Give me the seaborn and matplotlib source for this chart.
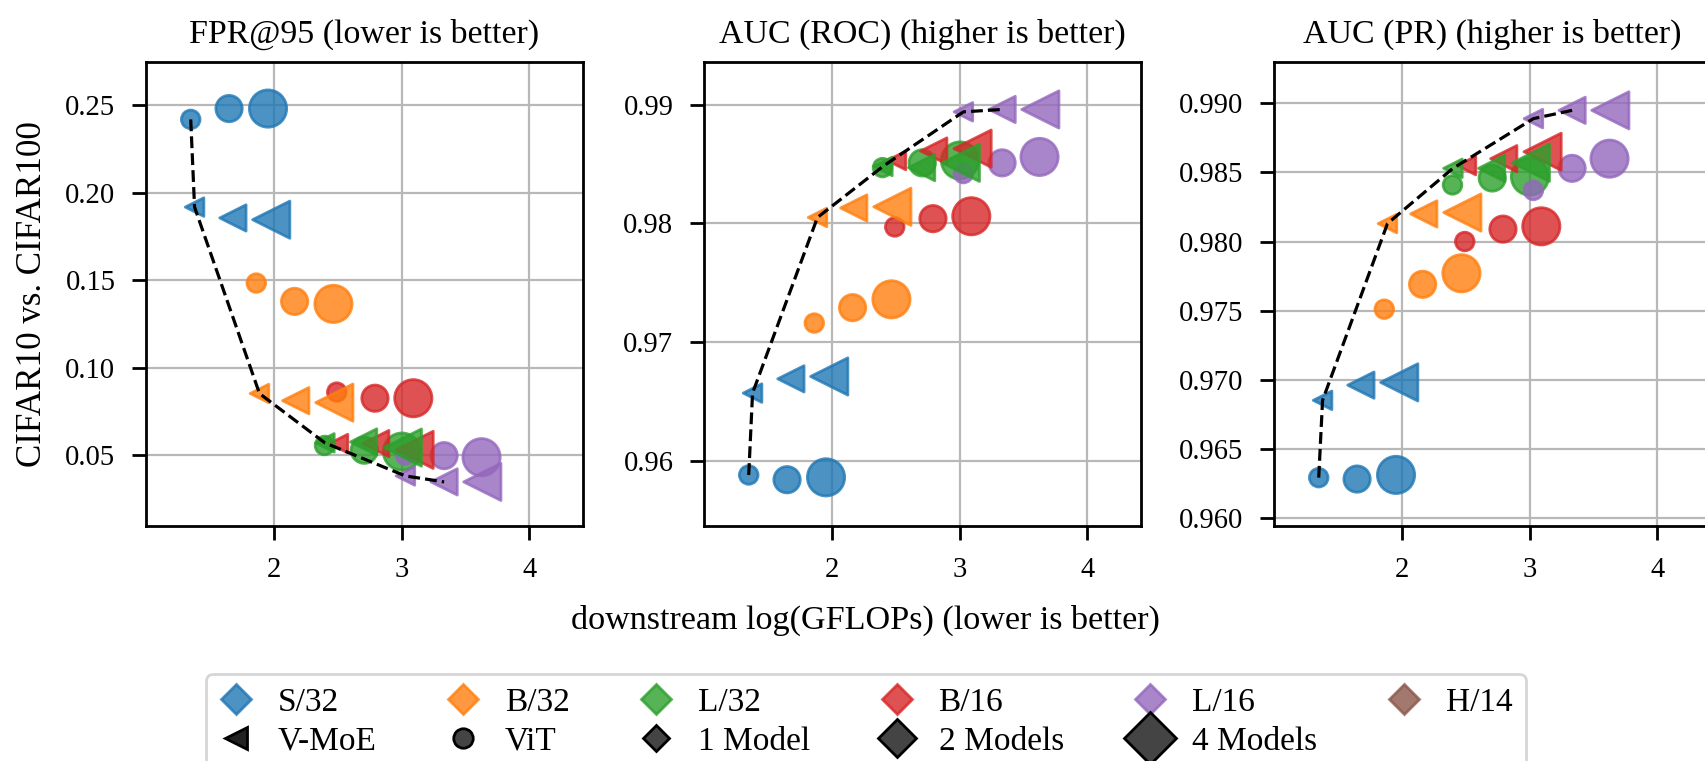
import numpy as np
import pandas as pd
import matplotlib
matplotlib.use("Agg")
import matplotlib.pyplot as plt
from matplotlib.lines import Line2D
from matplotlib.ticker import FormatStrFormatter
import seaborn as sns

# ---------------------------------------------------------------- data
models = ["S/32", "B/32", "L/32", "B/16", "L/16", "H/14"]
draw_order = ["S/32", "B/32", "B/16", "L/32", "L/16"]
families = ["ViT", "V-MoE"]
ensemble_sizes = [1, 2, 4]

# downstream log(GFLOPs) for ensembles of 1, 2 and 4 models
vit_gflops = {"S/32": [1.350, 1.650, 1.955], "B/32": [1.863, 2.163, 2.467],
              "B/16": [2.493, 2.792, 3.092], "L/32": [2.397, 2.708, 3.003],
              "L/16": [3.030, 3.333, 3.626]}
moe_gflops = {"S/32": [1.380, 1.680, 1.980], "B/32": [1.888, 2.172, 2.474],
              "B/16": [2.506, 2.798, 3.102], "L/32": [2.400, 2.703, 3.010],
              "L/16": [3.030, 3.333, 3.632]}

# FPR@95
vit_fpr = {"S/32": [0.2418, 0.2480, 0.2480], "B/32": [0.1483, 0.1378, 0.1364],
           "B/16": [0.0860, 0.0825, 0.0825], "L/32": [0.0555, 0.0528, 0.0520],
           "L/16": [0.0500, 0.0497, 0.0488]}
moe_fpr = {"S/32": [0.1917, 0.1855, 0.1845], "B/32": [0.0852, 0.0811, 0.0800],
           "B/16": [0.0566, 0.0566, 0.0530], "L/32": [0.0570, 0.0575, 0.0543],
           "L/16": [0.0381, 0.0347, 0.0347]}

# AUC (ROC)
vit_roc = {"S/32": [0.9588, 0.9584, 0.9586], "B/32": [0.9716, 0.9729, 0.9736],
           "B/16": [0.9797, 0.9804, 0.9806], "L/32": [0.9847, 0.9851, 0.9853],
           "L/16": [0.9842, 0.9851, 0.9856]}
moe_roc = {"S/32": [0.9657, 0.9669, 0.9671], "B/32": [0.9805, 0.9813, 0.9814],
           "B/16": [0.9853, 0.9861, 0.9863], "L/32": [0.9848, 0.9847, 0.9851],
           "L/16": [0.9894, 0.9896, 0.9896]}

# AUC (PR)
vit_pr = {"S/32": [0.9629, 0.9628, 0.9631], "B/32": [0.9751, 0.9769, 0.9777],
          "B/16": [0.9800, 0.9809, 0.9811], "L/32": [0.9841, 0.9846, 0.9847],
          "L/16": [0.9837, 0.9853, 0.9860]}
moe_pr = {"S/32": [0.9685, 0.9696, 0.9698], "B/32": [0.9813, 0.9820, 0.9821],
          "B/16": [0.9855, 0.9860, 0.9865], "L/32": [0.9853, 0.9853, 0.9857],
          "L/16": [0.9889, 0.9895, 0.9895]}

# points joined by the dashed frontier: (family, model, ensemble size)
frontier = [("ViT", "S/32", 1), ("V-MoE", "S/32", 1), ("V-MoE", "B/32", 1),
            ("V-MoE", "L/32", 1), ("V-MoE", "L/16", 1), ("V-MoE", "L/16", 2)]

metrics = ["fpr", "roc", "pr"]
titles = ["FPR@95 (lower is better)", "AUC (ROC) (higher is better)",
          "AUC (PR) (higher is better)"]
y_ticks = [[0.05, 0.10, 0.15, 0.20, 0.25],
           [0.96, 0.97, 0.98, 0.99],
           [0.960, 0.965, 0.970, 0.975, 0.980, 0.985, 0.990]]
y_formats = ["%.2f", "%.2f", "%.3f"]
y_limits = [(0.0095, 0.2746), (0.9545, 0.9936), (0.9594, 0.9930)]
x_ticks = [2, 3, 4]
x_limits = (1.0, 4.42)

# ---------------------------------------------------------------- table
rows = []
for fam, g, f, r, p in [("ViT", vit_gflops, vit_fpr, vit_roc, vit_pr),
                        ("V-MoE", moe_gflops, moe_fpr, moe_roc, moe_pr)]:
    for m in draw_order:
        for i, n in enumerate(ensemble_sizes):
            rows.append({"family": fam, "model": m, "n": n, "gflops": g[m][i],
                         "fpr": f[m][i], "roc": r[m][i], "pr": p[m][i]})
df = pd.DataFrame(rows)

# ---------------------------------------------------------------- style
sns.set_theme(style="whitegrid")
plt.rcParams.update({
    "font.family": ["Liberation Serif", "DejaVu Serif"],
    "axes.edgecolor": "black",
    "axes.linewidth": 1.0,
    "grid.color": "#b8b8b8",
    "grid.linewidth": 0.8,
    "xtick.bottom": True, "ytick.left": True,
    "xtick.major.size": 5, "ytick.major.size": 5,
    "xtick.major.width": 1.0, "ytick.major.width": 1.0,
    "xtick.major.pad": 6, "ytick.major.pad": 6,
    "xtick.color": "black", "ytick.color": "black",
    "xtick.labelsize": 10.3, "ytick.labelsize": 10.3,
    "text.color": "black", "axes.labelcolor": "black",
})

tab = sns.color_palette("tab10")
palette = {m: tab[i] for i, m in enumerate(models)}
size_map = {1: 45, 2: 90, 4: 180}

W, H = 1706, 761
fig = plt.figure(figsize=(W / 200, H / 200), dpi=200)
lefts = [146, 704, 1274]
ax_w, ax_top, ax_bot = 437, 62, 526

axes = []
for k, metric in enumerate(metrics):
    ax = fig.add_axes([lefts[k] / W, 1 - ax_bot / H, ax_w / W, (ax_bot - ax_top) / H])
    ax.set_axisbelow(True)
    sns.scatterplot(data=df, x="gflops", y=metric, hue="model",
                    hue_order=draw_order, palette=palette,
                    style="family", markers={"ViT": "o", "V-MoE": "<"},
                    size="n", sizes=size_map, alpha=0.8,
                    edgecolor="face", linewidth=1.0, legend=False, ax=ax, zorder=2)
    fr = pd.DataFrame([df[(df.family == f) & (df.model == m) & (df.n == n)].iloc[0]
                       for f, m, n in frontier])
    sns.lineplot(x=fr["gflops"].to_numpy(), y=fr[metric].to_numpy(), sort=False,
                 estimator=None, color="black", linestyle="--", linewidth=1.15,
                 ax=ax, zorder=3)
    ax.set_xlim(*x_limits)
    ax.set_ylim(*y_limits[k])
    ax.set_xticks(x_ticks)
    ax.set_yticks(y_ticks[k])
    ax.yaxis.set_major_formatter(FormatStrFormatter(y_formats[k]))
    ax.set_title(titles[k], fontsize=12.2, pad=7)
    ax.set_xlabel("")
    ax.set_ylabel("")
    for s in ax.spines.values():
        s.set_color("black")
        s.set_linewidth(1.0)
    axes.append(ax)

axes[0].set_ylabel("CIFAR10 vs. CIFAR100", fontsize=12.6, labelpad=6)
fig.text(865 / W, 1 - 620 / H, "downstream log(GFLOPs) (lower is better)",
         ha="center", va="center", fontsize=12.3)

# ---------------------------------------------------------------- legend
color_handles = [Line2D([], [], marker="D", ls="none", ms=7.5, mfc=palette[m],
                        mec=palette[m], alpha=0.8, label=m) for m in models]
family_handles = [
    Line2D([], [], marker="<", ls="none", ms=8, mfc="#222222", mec="black", label="V-MoE"),
    Line2D([], [], marker="o", ls="none", ms=7, mfc="#444444", mec="black", label="ViT"),
]
size_handles = [Line2D([], [], marker="D", ls="none", ms=np.sqrt(size_map[n]),
                       mfc="#444444", mec="black",
                       label=f"{n} Model" + ("s" if n > 1 else "")) for n in ensemble_sizes]
second_row = family_handles + size_handles
handles = []
for i in range(6):
    handles.append(color_handles[i])
    if i < len(second_row):
        handles.append(second_row[i])

fig.legend(handles=handles, labels=[h.get_label() for h in handles], ncol=6,
           loc="upper left", bbox_to_anchor=(206 / W, 1 - 674 / H),
           bbox_transform=fig.transFigure, borderaxespad=0, fontsize=12,
           handlelength=1.0, handletextpad=0.75, columnspacing=2.1,
           labelspacing=0.25, frameon=True, fancybox=True, edgecolor="#cccccc")

fig.savefig("out.png", dpi=200)
